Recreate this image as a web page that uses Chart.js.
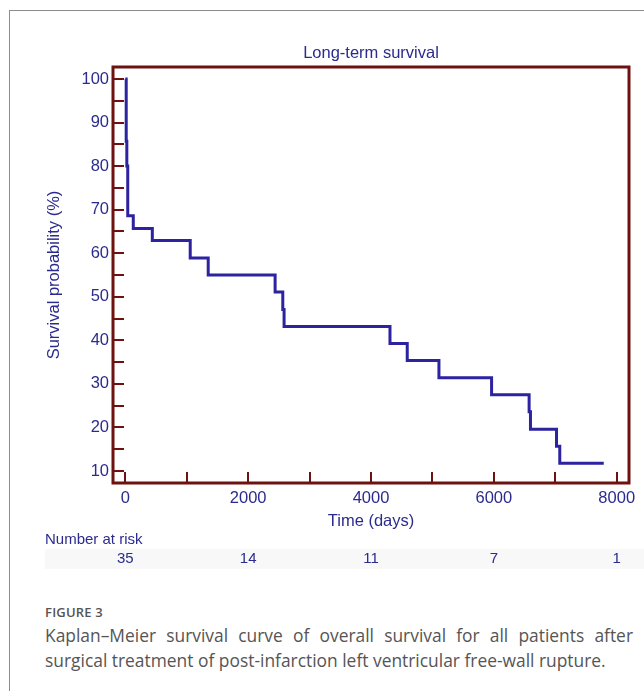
<!DOCTYPE html>
<html>
<head>
<meta charset="utf-8">
<script src="https://cdn.jsdelivr.net/npm/chart.js@4.4.0/dist/chart.umd.min.js"></script>
<style>
    body { margin: 0; background: #fff; }
    #box { position: absolute; left: 9px; top: 10px; width: 700px; height: 700px; border-left: 1px solid #8c8c8c; border-top: 1px solid #8c8c8c; }
    #wrap { position: absolute; left: 0; top: 0; width: 644px; height: 585px; }
    #caption { position: absolute; left: 45px; top: 601px; width: 588px; font-family: 'Open Sans', sans-serif; color: #555; }
    #caption .fig { font-size: 13px; font-weight: 600; letter-spacing: 0.2px; line-height: 22px; }
    #caption .line1 { font-size: 17.4px; line-height: 25px; text-align: justify; text-align-last: justify; white-space: nowrap; }
    #caption .line2 { font-size: 17.4px; line-height: 25px; white-space: nowrap; }
</style>
</head>
<body>
<div id="box"></div>
<div id="wrap"><canvas id="kmChart" width="644" height="585"></canvas></div>
<div id="caption">
    <div class="fig">FIGURE 3</div>
    <div class="line1">Kaplan–Meier survival curve of overall survival for all patients after</div>
    <div class="line2">surgical treatment of post-infarction left ventricular free-wall rupture.</div>
</div>
<script>
// Kaplan-Meier steps (days, survival %)
const days = [0, 15, 25, 40, 130, 440, 1057, 1350, 2439, 2564, 2585, 4309, 4590, 5106, 5963, 6574, 6596, 7020, 7073, 7789];
const survival = [100, 85.7, 80.0, 68.6, 65.7, 62.9, 58.9, 55.0, 51.1, 47.1, 43.2, 39.3, 35.4, 31.4, 27.5, 23.6, 19.6, 15.7, 11.8, 11.8];

const xTicks = [0, 2000, 4000, 6000, 8000];
const yTicks = [10, 20, 30, 40, 50, 60, 70, 80, 90, 100];
const xMinorStep = 1000;
const yMinorStep = 5;

const riskTimes = [0, 2000, 4000, 6000, 8000];
const atRisk = [35, 14, 11, 7, 1];

const navy = '#2b2b8e';
const maroon = '#6e1111';
const lineBlue = '#2d22a0';
const font = 'Liberation Sans, Arial, sans-serif';

// frame with inward ticks, title + number at risk row
const framePlugin = {
    id: 'frame',
    afterDatasetsDraw(chart) {
        const ctx = chart.ctx;
        const a = chart.chartArea;
        const xs = chart.scales.x;
        const ys = chart.scales.y;
        ctx.save();
        ctx.strokeStyle = maroon;
        ctx.lineWidth = 2;
        for (let v = 0; v <= 8000; v += xMinorStep) {
            const px = Math.round(xs.getPixelForValue(v));
            ctx.beginPath();
            ctx.moveTo(px, a.bottom);
            ctx.lineTo(px, a.bottom - 11);
            ctx.stroke();
        }
        for (let v = 10; v <= 100; v += yMinorStep) {
            const py = Math.round(ys.getPixelForValue(v));
            ctx.beginPath();
            ctx.moveTo(a.left, py);
            ctx.lineTo(a.left + 11, py);
            ctx.stroke();
        }
        ctx.lineWidth = 3;
        ctx.strokeRect(a.left, a.top, a.right - a.left, a.bottom - a.top);

        ctx.fillStyle = navy;
        ctx.textBaseline = 'middle';
        ctx.textAlign = 'center';
        ctx.font = '16.5px ' + font;
        ctx.fillText('Long-term survival', (a.left + a.right) / 2, 53);

        // number at risk
        ctx.fillStyle = '#f8f8f8';
        ctx.fillRect(45, 549, 599, 20);
        ctx.fillStyle = navy;
        ctx.font = '15px ' + font;
        ctx.textAlign = 'left';
        ctx.fillText('Number at risk', 45, 540);
        ctx.textAlign = 'center';
        riskTimes.forEach((t, i) => {
            ctx.fillText(String(atRisk[i]), xs.getPixelForValue(t), 559);
        });
        ctx.restore();
    }
};

new Chart(document.getElementById('kmChart'), {
    type: 'line',
    data: {
        datasets: [{
            data: days.map((d, i) => ({ x: d, y: survival[i] })),
            borderColor: lineBlue,
            borderWidth: 3,
            pointRadius: 0,
            stepped: true,
            fill: false
        }]
    },
    options: {
        responsive: false,
        animation: false,
        devicePixelRatio: 1,
        layout: { padding: { left: 0, top: 67, right: 15, bottom: 0 } },
        plugins: {
            legend: { display: false },
            tooltip: { enabled: false },
            title: { display: false }
        },
        scales: {
            x: {
                type: 'linear',
                min: -200,
                max: 8200,
                grid: { display: false, drawTicks: false },
                border: { display: false },
                afterBuildTicks: s => { s.ticks = xTicks.map(v => ({ value: v })); },
                afterFit: s => { s.height = 102; },
                ticks: { color: navy, font: { family: font, size: 16.5 }, padding: 6, maxRotation: 0, callback: v => String(v) },
                title: { display: true, text: 'Time (days)', color: navy, font: { family: font, size: 16.5 }, padding: { top: 0, bottom: 54 } }
            },
            y: {
                type: 'linear',
                min: 7.25,
                max: 102.75,
                grid: { display: false, drawTicks: false },
                border: { display: false },
                afterBuildTicks: s => { s.ticks = yTicks.map(v => ({ value: v })); },
                afterFit: s => { s.width = 113; },
                ticks: { color: navy, font: { family: font, size: 16.5 }, padding: 4, callback: v => String(v) },
                title: { display: true, text: 'Survival probability (%)', color: navy, font: { family: font, size: 16.5 }, padding: { top: 45, bottom: 0 } }
            }
        }
    },
    plugins: [framePlugin]
});
</script>
</body>
</html>
